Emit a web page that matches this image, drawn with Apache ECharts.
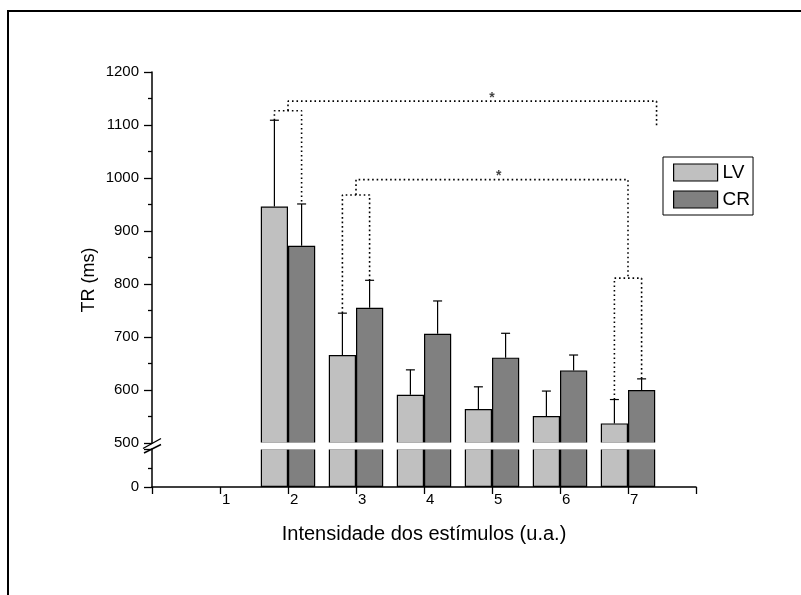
<!DOCTYPE html>
<html><head><meta charset="utf-8">
<script src="https://cdn.jsdelivr.net/npm/echarts@6/dist/echarts.min.js"></script>
<style>html,body{margin:0;padding:0;background:#fff}#c{width:801px;height:595px}</style>
</head><body><div id="c"></div>
<script>
// ---- data ----
const intensities = ['1', '2', '3', '4', '5', '6', '7'];
const lvMean  = [null, 946, 666, 591, 564, 551, 537];
const lvUpper = [null, 1109, 745, 638, 606, 598, 582];
const crMean  = [null, 872, 755, 706, 661, 637, 600];
const crUpper = [null, 951, 807, 768, 707, 666, 621];
const seriesNames = ['LV', 'CR'];
const xTitle = 'Intensidade dos estímulos (u.a.)';
const yTitle = 'TR (ms)';
// significance brackets: polylines in (intensity position, TR) units
const bracketA = [[1.8, 1109], [1.8, 1127], [2.2, 1127], [2.2, 951]];
const bracketB = [[2.0, 1127], [2.0, 1145], [7.42, 1145], [7.42, 1097]];
const bracketC = [[2.8, 745], [2.8, 968], [3.2, 968], [3.2, 807]];
const bracketD = [[3.0, 968], [3.0, 997], [7.0, 997], [7.0, 811]];
const bracketE = [[6.8, 582], [6.8, 811], [7.2, 811], [7.2, 621]];
const stars = [[5.0, 1157], [5.1, 1009]];

// ---- build ----
const cats = [''].concat(intensities, ['']);
const pad = arr => [null].concat(arr, [null]);
const FONT = 'Liberation Sans, Arial, Helvetica, sans-serif';
const LVC = '#c0c0c0', CRC = '#808080';
const barW = 27.2;

const errData = [];
intensities.forEach((k, i) => {
  const pos = Number(k);
  if (lvMean[i] != null) errData.push([pos - 0.2, lvMean[i], lvUpper[i]]);
  if (crMean[i] != null) errData.push([pos + 0.2, crMean[i], crUpper[i]]);
});

function barSeries(name, data, color, idx) {
  return {
    type: 'bar', name: name, xAxisIndex: idx, yAxisIndex: idx,
    data: pad(data), barWidth: barW, barGap: '0%',
    itemStyle: {color: color, borderColor: '#000', borderWidth: 1.2},
    clip: true, silent: true, animation: false
  };
}
function bracket(data) {
  return {
    type: 'line', xAxisIndex: 2, yAxisIndex: 0, data: data, symbol: 'none',
    lineStyle: {type: [1.6, 2.9], width: 1.6, color: '#000'},
    silent: true, animation: false, z: 5
  };
}

const chart = echarts.init(document.getElementById('c'), null, {renderer: 'canvas'});
chart.setOption({
  backgroundColor: '#fff',
  animation: false,
  textStyle: {fontFamily: FONT},
  grid: [
    {left: 152, top: 72, width: 544, height: 371},
    {left: 152, top: 449, width: 544, height: 38}
  ],
  legend: {
    data: seriesNames, orient: 'vertical', left: 663, top: 157,
    icon: 'rect', itemWidth: 44, itemHeight: 17, itemGap: 8,
    padding: [6, 3, 6, 10], borderColor: '#000', borderWidth: 1,
    itemStyle: {borderColor: '#000', borderWidth: 1.2},
    textStyle: {fontSize: 19, color: '#000', fontFamily: FONT, padding: [0, 0, 0, 0]},
    selectedMode: false
  },
  xAxis: [
    {gridIndex: 0, type: 'category', data: cats, boundaryGap: false, show: false},
    {gridIndex: 1, type: 'category', data: cats, boundaryGap: false,
      axisLine: {onZero: false, lineStyle: {color: '#000', width: 1.5}},
      axisTick: {interval: 0, length: 7, lineStyle: {color: '#000', width: 1.3}},
      axisLabel: {interval: 0, color: '#000', fontSize: 15, fontFamily: FONT, margin: 5, align: 'left', padding: [0, 0, 0, 2]},
      splitLine: {show: false},
      name: xTitle, nameLocation: 'middle', nameGap: 37,
      nameTextStyle: {fontSize: 20, color: '#000', fontFamily: FONT}
    },
    {gridIndex: 0, type: 'value', min: 0, max: 8, show: false}
  ],
  yAxis: [
    {gridIndex: 0, type: 'value', min: 500, max: 1200, interval: 100,
      axisLine: {show: true, onZero: false, lineStyle: {color: '#000', width: 1.5}},
      axisTick: {show: true, length: 8, lineStyle: {color: '#000', width: 1.3}},
      minorTick: {show: true, splitNumber: 2, length: 4, lineStyle: {color: '#000', width: 1.3}},
      axisLabel: {color: '#000', fontSize: 15, fontFamily: FONT, margin: 13, formatter: v => String(v)},
      splitLine: {show: false}
    },
    {gridIndex: 1, type: 'value', min: 0, max: 100, interval: 100,
      axisLine: {show: true, onZero: false, lineStyle: {color: '#000', width: 1.5}},
      axisTick: {show: true, length: 8, lineStyle: {color: '#000', width: 1.3}},
      minorTick: {show: true, splitNumber: 2, length: 4, lineStyle: {color: '#000', width: 1.3}},
      axisLabel: {color: '#000', fontSize: 15, fontFamily: FONT, margin: 13,
        formatter: v => (v === 0 ? '0' : '')},
      splitLine: {show: false}
    }
  ],
  series: [
    barSeries(seriesNames[0], lvMean, LVC, 0),
    barSeries(seriesNames[1], crMean, CRC, 0),
    barSeries(seriesNames[0], lvMean, LVC, 1),
    barSeries(seriesNames[1], crMean, CRC, 1),
    {
      type: 'custom', xAxisIndex: 2, yAxisIndex: 0, data: errData,
      silent: true, animation: false, z: 4,
      renderItem: function (params, api) {
        const x = api.value(0), m = api.value(1), u = api.value(2);
        const p0 = api.coord([x, m]), p1 = api.coord([x, u]);
        const st = {stroke: '#000', lineWidth: 1.2};
        return {type: 'group', children: [
          {type: 'line', shape: {x1: p0[0], y1: p0[1], x2: p1[0], y2: p1[1]}, style: st},
          {type: 'line', shape: {x1: p1[0] - 4.5, y1: p1[1], x2: p1[0] + 4.5, y2: p1[1]}, style: st}
        ]};
      }
    },
    bracket(bracketA), bracket(bracketB), bracket(bracketC), bracket(bracketD), bracket(bracketE),
    {
      type: 'scatter', xAxisIndex: 2, yAxisIndex: 0, data: stars, symbolSize: 0,
      silent: true, animation: false, z: 6,
      label: {show: true, position: 'inside', formatter: '*', fontSize: 14, fontWeight: 'bold', color: '#111', fontFamily: FONT, offset: [0, 3]}
    }
  ],
  graphic: [
    {type: 'rect', z: 100, silent: true, shape: {x: 200, y: 442.4, width: 480, height: 7.2}, style: {fill: '#fff'}},
    {type: 'line', z: 101, silent: true, shape: {x1: 143, y1: 448.5, x2: 161, y2: 438.5}, style: {stroke: '#000', lineWidth: 1.4}},
    {type: 'line', z: 101, silent: true, shape: {x1: 144, y1: 453, x2: 161, y2: 444.5}, style: {stroke: '#000', lineWidth: 1.4}},
    {type: 'rect', z: 100, silent: true, shape: {x: 8, y: 11, width: 810, height: 600}, style: {fill: null, stroke: '#000', lineWidth: 2}},
    {type: 'text', z: 100, silent: true, x: 89, y: 280, rotation: Math.PI / 2,
      style: {text: yTitle, x: 0, y: 0, align: 'center', verticalAlign: 'middle', fontSize: 18, fontFamily: FONT, fill: '#000'}}
  ]
});
</script></body></html>
